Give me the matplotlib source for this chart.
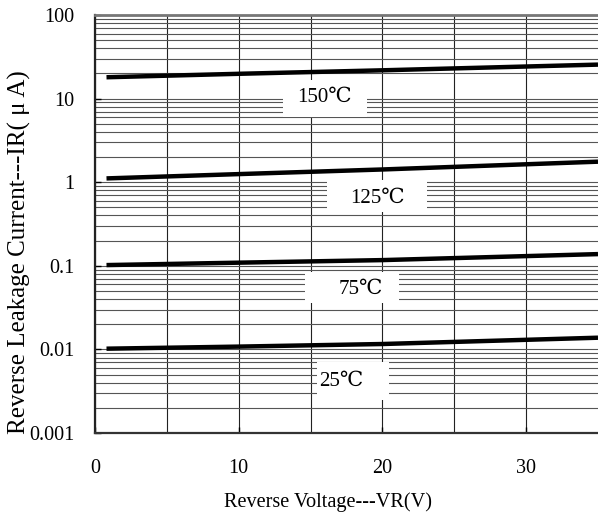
import matplotlib
matplotlib.use("Agg")
import matplotlib.pyplot as plt
import numpy as np
from matplotlib.patches import Rectangle
from matplotlib.ticker import LogLocator, FixedLocator, NullFormatter, FixedFormatter

# Data
voltage = [0.8, 10, 20, 35]
ir_150 = [18.0, 19.8, 21.8, 25.5]
ir_125 = [1.11, 1.25, 1.42, 1.76]
ir_75 = [0.102, 0.109, 0.117, 0.138]
ir_25 = [0.0102, 0.0108, 0.0116, 0.0138]
series = [ir_150, ir_125, ir_75, ir_25]
labels = ["150℃", "125℃", "75℃", "25℃"]
label_pos = [(16.0, 10.4), (19.65, 0.647), (18.5, 0.0527), (17.15, 0.00419)]
box_x = [(13.06, 18.96), (16.11, 23.13), (14.58, 21.18), (15.42, 20.49)]
box_y = [(6.03, 16.7), (0.44, 1.06), (0.0359, 0.0843), (0.00248, 0.00706)]

yticks = [0.001, 0.01, 0.1, 1, 10, 100]
ytick_labels = ["0.001", "0.01", "0.1", "1", "10", "100"]
xticks = [0, 10, 20, 30]
xtick_labels = ["0", "10", "20", "30"]

serif = ["Liberation Serif", "DejaVu Serif"]

fig = plt.figure(figsize=(5.98, 5.2), dpi=100)
ax = fig.add_axes([95/598, 1-433/520, 1-95/598, (433-15)/520])
ax.set_yscale("log")
ax.set_xlim(0, 35)
ax.set_ylim(0.001, 100)

# gridlines
ax.yaxis.set_minor_locator(LogLocator(base=10, subs=np.arange(2, 10)))
ax.yaxis.set_minor_formatter(NullFormatter())
ax.xaxis.set_minor_locator(FixedLocator([5, 15, 25]))
ax.grid(True, which="both", axis="y", color="#555555", lw=0.8)
ax.grid(True, which="both", axis="x", color="#222222", lw=0.8)
ax.set_axisbelow(True)

for s in series:
    ax.plot(voltage, s, color="black", lw=3.2, solid_capstyle="butt", zorder=3)

for (x0, x1), (y0, y1) in zip(box_x, box_y):
    ax.add_patch(Rectangle((x0, y0), x1 - x0, y1 - y0, facecolor="white",
                           edgecolor="none", zorder=2.5))

for lab, (x, y) in zip(labels, label_pos):
    ax.text(x, y, lab, ha="center", va="center", fontsize=15, family=serif,
            zorder=4)

ax.yaxis.set_major_locator(FixedLocator(yticks))
ax.yaxis.set_major_formatter(FixedFormatter(ytick_labels))
ax.xaxis.set_major_locator(FixedLocator(xticks))
ax.xaxis.set_major_formatter(FixedFormatter(xtick_labels))
ax.tick_params(axis="both", which="major", direction="in", length=4, width=1,
               labelsize=14.5)
ax.tick_params(axis="y", which="major", pad=15)
ax.tick_params(axis="x", which="major", pad=19)
ax.tick_params(which="minor", length=0)
for t in ax.get_xticklabels() + ax.get_yticklabels():
    t.set_family(serif)

ax.spines["right"].set_visible(False)
ax.spines["top"].set_color("#777777")
ax.spines["top"].set_linewidth(2)
ax.spines["left"].set_linewidth(1.6)
ax.spines["bottom"].set_linewidth(1.6)
ax.spines["left"].set_color("#222222")
ax.spines["bottom"].set_color("#333333")

ax.set_xlabel("Reverse Voltage---VR(V)", fontsize=14.6, family=serif)
ax.xaxis.set_label_coords(0.463, -0.142)
ax.set_ylabel("Reverse Leakage Current---IR( \u03bc A)", fontsize=18,
              family=serif)
ax.yaxis.set_label_coords(-0.127, 0.433)

fig.savefig("out.png", dpi=100)
